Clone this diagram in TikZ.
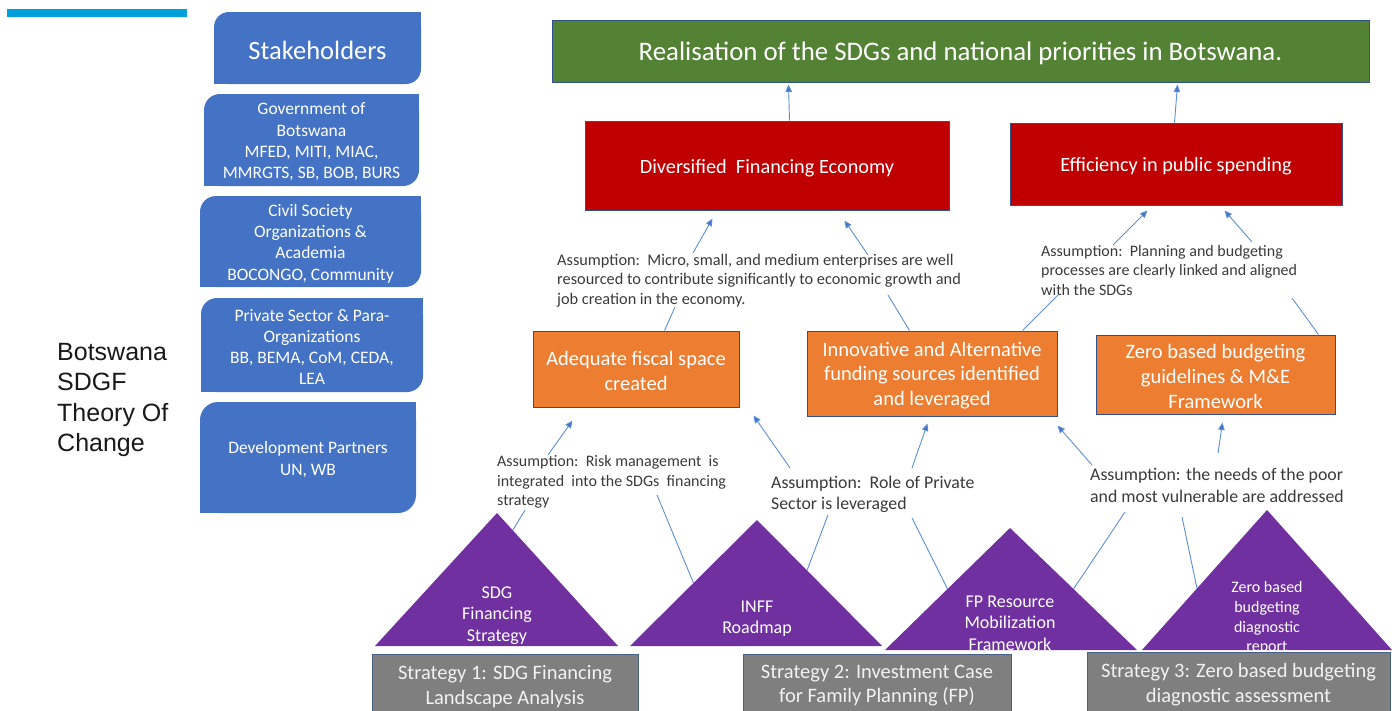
\documentclass[tikz,border=0pt]{standalone}
\usepackage{fontspec}
\setmainfont{Carlito}
\newfontfamily\arialf{Liberation Sans}
\usetikzlibrary{arrows.meta,calc}
\definecolor{stkblue}{HTML}{4472C4}
\definecolor{barblue}{HTML}{00A0DC}
\definecolor{goalgreen}{HTML}{548235}
\definecolor{outred}{HTML}{C00000}
\definecolor{outorange}{HTML}{ED7D31}
\definecolor{tripurple}{HTML}{7030A0}
\definecolor{stratgray}{HTML}{7F7F7F}
\definecolor{boxline}{HTML}{2F528F}
\definecolor{connblue}{HTML}{5B8FD6}
\definecolor{assumtxt}{HTML}{3A3A3A}
\newcommand{\stkbox}[7]{%
  \fill[stkblue, rounded corners=#6] (#2,#3) rectangle (#4,#5);
  \fill[stkblue] (#4-#6,#3) rectangle (#4,#3+#6);
  \fill[stkblue] (#2,#5-#6) rectangle (#2+#6,#5);
  \node[stktext] (#1) at ({(#2+#4)/2},{(#3+#5)/2+2}) {#7};
}
\tikzset{
  stktext/.style={text=white, align=center, inner sep=0pt, font=\fontsize{17.5}{21.3}\selectfont},
  outline/.style={draw=boxline, line width=1pt, inner sep=0pt},
  greenbox/.style={outline, fill=goalgreen},
  redbox/.style={outline, fill=outred},
  orangebox/.style={outline, fill=outorange},
  graybox/.style={outline, draw=boxline!70!gray, fill=stratgray},
  boxtxt/.style={text=white, align=center, inner sep=0pt},
  greentxt/.style={boxtxt, font=\fontsize{26.8}{30}\selectfont},
  redtxt/.style={boxtxt, font=\fontsize{20.3}{24}\selectfont},
  orangetxt/.style={boxtxt, font=\fontsize{20.5}{24.8}\selectfont},
  graytxt/.style={boxtxt, text=white!95!black, font=\fontsize{20.5}{24.8}\selectfont},
  tritext/.style={text=white, align=center, inner sep=0pt, font=\fontsize{18}{21.3}\selectfont},
  assum/.style={text=assumtxt, align=left, inner sep=0pt, anchor=west, font=\fontsize{16.3}{19.5}\selectfont},
  assumsm/.style={assum, font=\fontsize{16}{19.5}\selectfont},
  assumbig/.style={assum, font=\fontsize{17.8}{21.3}\selectfont},
  conn/.style={draw=connblue, line width=0.9pt},
  arr/.style={conn, -{Triangle[length=7.5pt,width=6.5pt,fill=stkblue]}},
}
\begin{document}
\begin{tikzpicture}[x=1pt,y=-1pt]
\useasboundingbox (0,0) rectangle (1392,710);
% header bar
\fill[barblue] (7,9) rectangle (187,17);
% title
\node[anchor=west, align=left, inner sep=0pt, font=\arialf\fontsize{25}{30.5}\selectfont, text=black!90] (title) at (57,400) {Botswana\\SDGF\\Theory Of\\Change};
% stakeholders
\stkbox{stk}{214}{12}{421}{84}{15}{\fontsize{26.5}{30}\selectfont Stakeholders}
\stkbox{gov}{204}{94}{419}{186}{16}{Government of\\Botswana\\MFED, MITI, MIAC,\\MMRGTS, SB, BOB, BURS}
\stkbox{civ}{200}{196}{421}{287}{16}{Civil Society\\Organizations \&\\Academia\\BOCONGO, Community}
\stkbox{priv}{201}{298}{423}{392}{16}{Private Sector \& Para-\\Organizations\\BB, BEMA, CoM, CEDA,\\LEA}
\stkbox{dev}{200}{402}{416}{513}{18}{Development Partners\\UN, WB}
% goal and outcomes
\node[greenbox, minimum width=817, minimum height=62] (green) at (960.5,51) {};
\node[greentxt] (greenlbl) at ([yshift=-2.5]green.center) {Realisation of the SDGs and national priorities in Botswana.};
\node[redbox, minimum width=364, minimum height=89] (red1) at (767,165.5) {};
\node[redtxt] (red1lbl) at ([yshift=-2.5]red1.center) {Diversified\ \ Financing Economy};
\node[redbox, minimum width=332, minimum height=82] (red2) at (1176,164) {};
\node[redtxt] (red2lbl) at ([yshift=-2.5]red2.center) {Efficiency in public spending};
\node[orangebox, minimum width=206, minimum height=76] (o1) at (636,369) {};
\node[orangetxt] (o1lbl) at ([yshift=-2]o1.center) {Adequate fiscal space\\created};
\node[orangebox, minimum width=250, minimum height=85] (o2) at (932,373.5) {};
\node[orangetxt] (o2lbl) at ([yshift=-2]o2.center) {Innovative and Alternative\\funding sources identified\\and leveraged};
\node[orangebox, minimum width=239, minimum height=79] (o3) at (1215.5,374.5) {};
\node[orangetxt] (o3lbl) at ([yshift=-2]o3.center) {Zero based budgeting\\guidelines \& M\&E\\Framework};
% assumptions
\node[assum] (a1) at (557,280.5) {Assumption:\ \ Micro, small, and medium enterprises are well\\resourced to contribute significantly to economic growth and\\job creation in the economy.};
\node[assumsm] (a2) at (1041,270) {Assumption:\ \ Planning and budgeting\\processes are clearly linked and aligned\\with the SDGs};
\node[assumsm] (a3) at (497,482) {Assumption:\ \ Risk management\ \ is\\integrated\ \ into the SDGs\ \ financing\\strategy};
\node[assumbig] (a4) at (771,494) {Assumption:\ \ Role of Private\\Sector is leveraged};
\node[assumbig] (a5) at (1090,485.5) {Assumption: the needs of the poor\\and most vulnerable are addressed};
% triangles
\coordinate (t1a) at (497,513); \coordinate (t1l) at (375,646); \coordinate (t1r) at (618,646);
\coordinate (t2a) at (757,520); \coordinate (t2l) at (630,646); \coordinate (t2r) at (882,646);
\coordinate (t3a) at (1010,528); \coordinate (t3l) at (885,650); \coordinate (t3r) at (1137,650);
\coordinate (t4a) at (1267,510); \coordinate (t4l) at (1142,650); \coordinate (t4r) at (1392,650);
\fill[tripurple] (t1l) -- (t1a) -- (t1r) -- cycle;
\fill[tripurple] (t2l) -- (t2a) -- (t2r) -- cycle;
\fill[tripurple] (t3l) -- (t3a) -- (t3r) -- cycle;
\fill[tripurple] (t4l) -- (t4a) -- (t4r) -- cycle;
\node[tritext] (t1) at (497,615.5) {SDG\\Financing\\Strategy};
\node[tritext] (t2) at (757,619) {INFF\\Roadmap};
\node[tritext] (t3) at (1010,623) {FP Resource\\Mobilization\\Framework};
\node[tritext, font=\fontsize{16}{19.7}\selectfont] (t4) at (1267,618) {Zero based\\budgeting\\diagnostic\\report};
% strategies
\node[graybox, minimum width=266, minimum height=60] (g1) at (505,684) {};
\node[graytxt] (g1lbl) at ([yshift=-2.5]g1.center) {Strategy 1: SDG Financing\\Landscape Analysis};
\node[graybox, minimum width=268, minimum height=60] (g2) at (877,684) {};
\node[graytxt] (g2lbl) at ([yshift=-1.5]g2.center) {Strategy 2: Investment Case\\for Family Planning (FP)};
\node[graybox, minimum width=303, minimum height=62] (g3) at (1238.5,683) {};
\node[graytxt] (g3lbl) at ([yshift=-1.5]g3.center) {Strategy 3: Zero based budgeting\\diagnostic assessment};
% connector end points at the assumption texts
\coordinate (a1i1) at (675,307); \coordinate (a1i2) at (888,295);
\coordinate (a1o1) at (693,253); \coordinate (a1o2) at (868,255);
\coordinate (a2i1) at (1058,295); \coordinate (a2i2) at (1292,298);
\coordinate (a2o1) at (1113,245); \coordinate (a2o2) at (1252,242);
\coordinate (a3i1) at (525,510); \coordinate (a3i2) at (657,495);
\coordinate (a3o1) at (548,455);
\coordinate (a4i1) at (828,515); \coordinate (a4i2) at (912,518);
\coordinate (a4o1) at (790,468); \coordinate (a4o2) at (912,468);
\coordinate (a5i1) at (1125,512); \coordinate (a5i2) at (1182,517);
\coordinate (a5o1) at (1092,465); \coordinate (a5o2) at (1218,453);
% outcomes to goal
\draw[arr] ([xshift=205]red1.north west) -- ([xshift=237,yshift=-2]green.south west);
\draw[arr] ([xshift=165]red2.north west) -- ([xshift=626,yshift=-2]green.south west);
% A1
\draw[conn] ([xshift=132]o1.north west) -- (a1i1);
\draw[conn] ([xshift=103]o2.north west) -- (a1i2);
\draw[arr] (a1o1) -- ([xshift=128,yshift=-8]red1.south west);
\draw[arr] (a1o2) -- ([xshift=260,yshift=-10]red1.south west);
% A2
\draw[conn] ([xshift=216]o2.north west) -- (a2i1);
\draw[conn] ([xshift=223]o3.north west) -- (a2i2);
\draw[arr] (a2o1) -- ([xshift=138,yshift=-5]red2.south west);
\draw[arr] (a2o2) -- ([xshift=215,yshift=-5]red2.south west);
% A3
\draw[conn] ($(t1a)!0.13!(t1r)$) -- (a3i1);
\draw[conn] ($(t2a)!0.5!(t2l)$) -- (a3i2);
\draw[arr] (a3o1) -- ([xshift=40,yshift=-13]o1.south west);
% A4
\draw[conn] ($(t2a)!0.4!(t2r)$) -- (a4i1);
\draw[conn] ($(t3a)!0.5!(t3l)$) -- (a4i2);
\draw[arr] (a4o1) -- ([xshift=14,yshift=-8]o1.south east);
\draw[arr] (a4o2) -- ([xshift=121,yshift=-7]o2.south west);
% A5
\draw[conn] ($(t3a)!0.5!(t3r)$) -- (a5i1);
\draw[conn] ($(t4a)!0.56!(t4l)$) -- (a5i2);
\draw[arr] (a5o1) -- ([yshift=-9]o2.south east);
\draw[arr] (a5o2) -- ([xshift=127,yshift=-8]o3.south west);
\end{tikzpicture}
\end{document}
